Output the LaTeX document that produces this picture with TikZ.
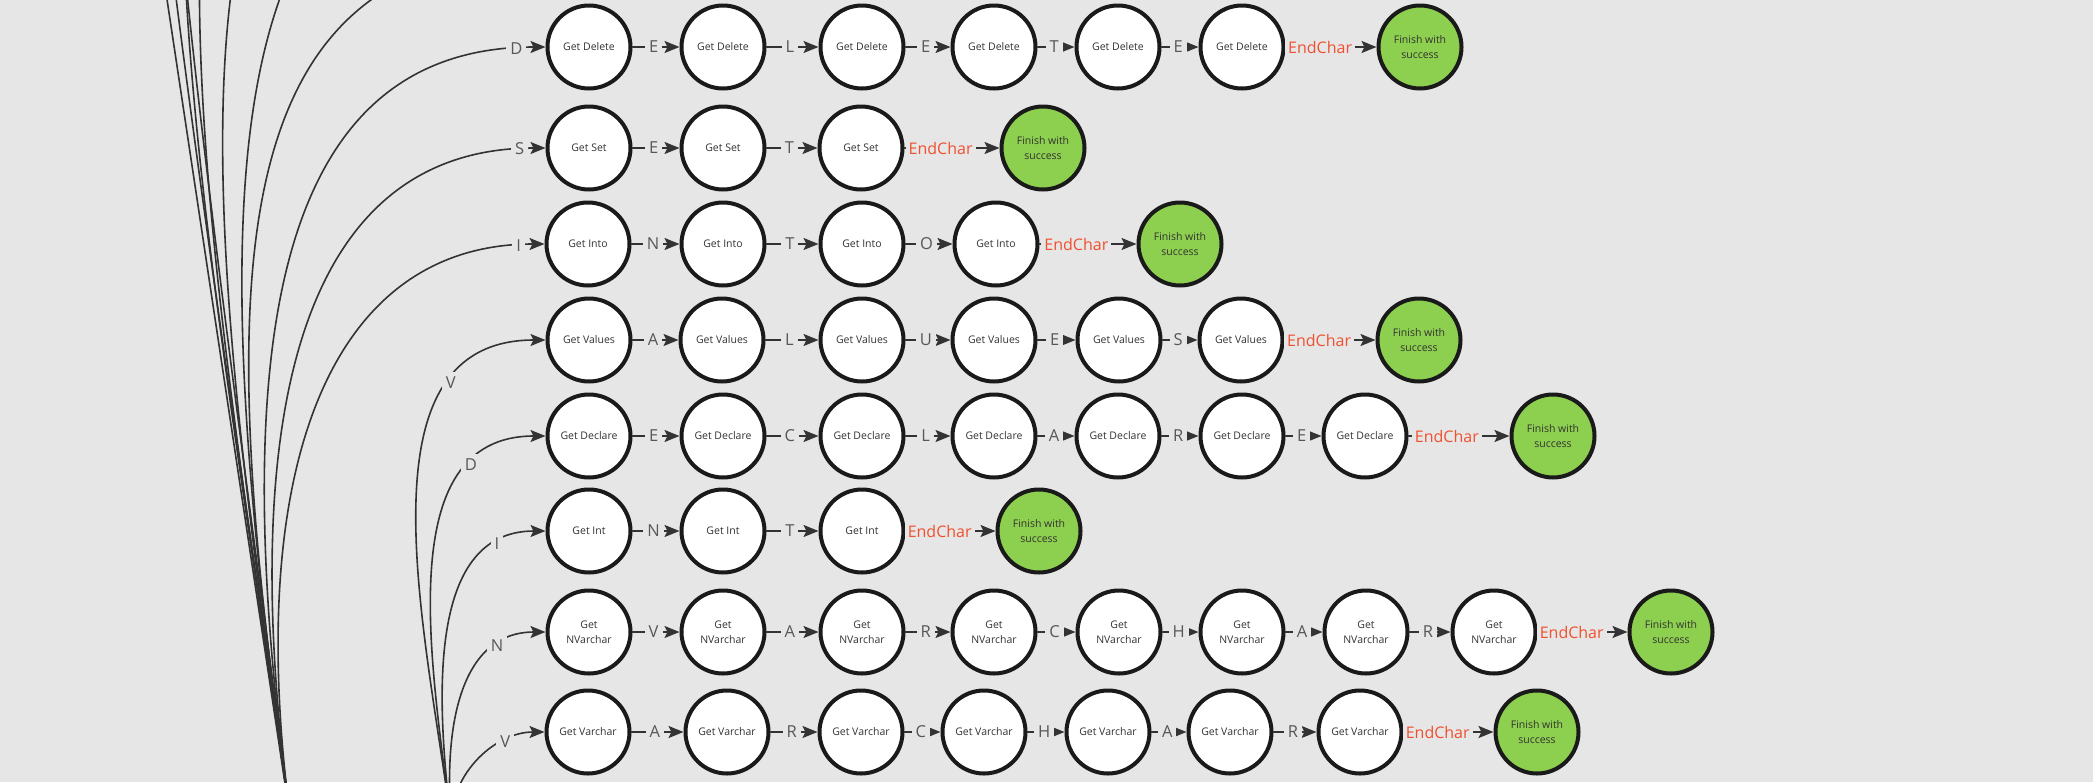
\documentclass[tikz,border=0pt]{standalone}
\usepackage{fontspec}
\setmainfont{Open Sans}
\usetikzlibrary{arrows.meta}
\definecolor{bggray}{HTML}{E6E6E6}
\definecolor{ringblack}{HTML}{1A1A1A}
\definecolor{wiregray}{HTML}{333333}
\definecolor{chargray}{HTML}{575757}
\definecolor{endred}{HTML}{F0502F}
\definecolor{okgreen}{HTML}{8DCF4E}
\tikzset{
  getnode/.style={circle,draw=ringblack,line width=4pt,fill=white,minimum size=83pt,inner sep=0pt,align=center,text=wiregray,font=\fontsize{10.5}{14.5}\selectfont},
  oknode/.style={getnode,fill=okgreen},
  charlbl/.style={fill=bggray,text=chargray,inner sep=4pt,font=\fontsize{16.5}{18}\selectfont},
  endlbl/.style={charlbl,text=endred,inner sep=3pt,font=\fontsize{16}{18}\selectfont},
  wire/.style={draw=wiregray,line width=2pt},
  thinwire/.style={wire,line width=1.6pt}
}
\begin{document}
\begin{tikzpicture}[line cap=round,line join=round,>={Stealth[length=15pt,width=12pt,inset=3pt]},x=1pt,y=-1pt]
\useasboundingbox (0,0) rectangle (2093,782);
\clip (0,0) rectangle (2093,782);
\fill[bggray] (0,0) rectangle (2093,782);

\coordinate (srcA) at (292,830);
\coordinate (srcB) at (452,830);
\coordinate (up1) at (140,-180);
\coordinate (up2) at (164,-100);
\coordinate (up3) at (178,-100);
\coordinate (up4) at (547,-620);
\coordinate (up5) at (547,-500);
\coordinate (up6) at (547,-330);
\coordinate (up7) at (547,-190);
\coordinate (up8) at (547,-49);

\node[getnode] (del1) at (589,47) {Get Delete};
\node[getnode] (del2) at (723,47) {Get Delete};
\node[getnode] (del3) at (862,47) {Get Delete};
\node[getnode] (del4) at (994,47) {Get Delete};
\node[getnode] (del5) at (1118,47) {Get Delete};
\node[getnode] (del6) at (1242,47) {Get Delete};
\node[oknode] (delok) at (1420,47) {Finish with\\success};

\node[getnode] (set1) at (589,148) {Get Set};
\node[getnode] (set2) at (723,148) {Get Set};
\node[getnode] (set3) at (861,148) {Get Set};
\node[oknode] (setok) at (1043,148) {Finish with\\success};

\node[getnode] (into1) at (588,244) {Get Into};
\node[getnode] (into2) at (723,244) {Get Into};
\node[getnode] (into3) at (862,244) {Get Into};
\node[getnode] (into4) at (996,244) {Get Into};
\node[oknode] (intook) at (1180,244) {Finish with\\success};

\node[getnode] (val1) at (589,340) {Get Values};
\node[getnode] (val2) at (722,340) {Get Values};
\node[getnode] (val3) at (862,340) {Get Values};
\node[getnode] (val4) at (994,340) {Get Values};
\node[getnode] (val5) at (1119,340) {Get Values};
\node[getnode] (val6) at (1241,340) {Get Values};
\node[oknode] (valok) at (1419,340) {Finish with\\success};

\node[getnode] (dec1) at (589,436) {Get Declare};
\node[getnode] (dec2) at (723,436) {Get Declare};
\node[getnode] (dec3) at (862,436) {Get Declare};
\node[getnode] (dec4) at (994,436) {Get Declare};
\node[getnode] (dec5) at (1118,436) {Get Declare};
\node[getnode] (dec6) at (1242,436) {Get Declare};
\node[getnode] (dec7) at (1365,436) {Get Declare};
\node[oknode] (decok) at (1553,436) {Finish with\\success};

\node[getnode] (int1) at (589,531) {Get Int};
\node[getnode] (int2) at (723,531) {Get Int};
\node[getnode] (int3) at (862,531) {Get Int};
\node[oknode] (intok) at (1039,531) {Finish with\\success};

\node[getnode] (nvc1) at (589,632) {Get\\NVarchar};
\node[getnode] (nvc2) at (723,632) {Get\\NVarchar};
\node[getnode] (nvc3) at (862,632) {Get\\NVarchar};
\node[getnode] (nvc4) at (994,632) {Get\\NVarchar};
\node[getnode] (nvc5) at (1119,632) {Get\\NVarchar};
\node[getnode] (nvc6) at (1242,632) {Get\\NVarchar};
\node[getnode] (nvc7) at (1366,632) {Get\\NVarchar};
\node[getnode] (nvc8) at (1494,632) {Get\\NVarchar};
\node[oknode] (nvcok) at (1671,632) {Finish with\\success};

\node[getnode] (vc1) at (588,732) {Get Varchar};
\node[getnode] (vc2) at (727,732) {Get Varchar};
\node[getnode] (vc3) at (861,732) {Get Varchar};
\node[getnode] (vc4) at (984,732) {Get Varchar};
\node[getnode] (vc5) at (1108,732) {Get Varchar};
\node[getnode] (vc6) at (1230,732) {Get Varchar};
\node[getnode] (vc7) at (1360,732) {Get Varchar};
\node[oknode] (vcok) at (1537,732) {Finish with\\success};

\draw[thinwire] (srcA) -- (up1);
\draw[thinwire] (srcA) .. controls (250,530) and (196,170) .. (up2);
\draw[thinwire] (srcA) .. controls (252,520) and (200,150) .. (up3);
\draw[thinwire] (srcA) .. controls (180,28) and (32,-620) .. (up4);
\draw[thinwire] (srcA) .. controls (188,93) and (73,-500) .. (up5);
\draw[thinwire] (srcA) .. controls (201,183) and (131,-330) .. (up6);
\draw[thinwire] (srcA) .. controls (212,258) and (185,-190) .. (up7);
\draw[thinwire] (srcA) .. controls (222,332) and (195,-49) .. (up8);
\draw[thinwire,->] (srcA) .. controls (229,382) and (259,47) .. node[charlbl,pos=0.965] {D} (del1);
\draw[thinwire,->] (srcA) .. controls (236,434) and (292,148) .. node[charlbl,pos=0.965] {S} (set1);
\draw[thinwire,->] (srcA) .. controls (243,482) and (323,244) .. node[charlbl,pos=0.96] {I} (into1);

\draw[thinwire,->] (srcB) .. controls (428,637) and (352,340) .. node[charlbl,pos=0.77] {V} (val1);
\draw[thinwire,->] (srcB) .. controls (433,672) and (388,436) .. node[charlbl,pos=0.79] {D} (dec1);
\draw[thinwire,->] (srcB) .. controls (437,708) and (424,531) .. node[charlbl,pos=0.84] {I} (int1);
\draw[thinwire,->] (srcB) .. controls (442,725) and (461,632) .. node[charlbl,pos=0.77] {N} (nvc1);
\draw[thinwire,->] (srcB) .. controls (446,777) and (494,732) .. node[charlbl,pos=0.73] {V} (vc1);

\draw[wire,->] (del1) -- node[charlbl,pos=0.45] {E} (del2);
\draw[wire,->] (del2) -- node[charlbl,pos=0.45] {L} (del3);
\draw[wire,->] (del3) -- node[charlbl,pos=0.45] {E} (del4);
\draw[wire,->] (del4) -- node[charlbl,pos=0.45] {T} (del5);
\draw[wire,->] (del5) -- node[charlbl,pos=0.45] {E} (del6);
\draw[wire,->] (del6) -- node[endlbl,pos=0.38] {EndChar} (delok);

\draw[wire,->] (set1) -- node[charlbl,pos=0.45] {E} (set2);
\draw[wire,->] (set2) -- node[charlbl,pos=0.45] {T} (set3);
\draw[wire,->] (set3) -- node[endlbl,pos=0.38] {EndChar} (setok);

\draw[wire,->] (into1) -- node[charlbl,pos=0.45] {N} (into2);
\draw[wire,->] (into2) -- node[charlbl,pos=0.45] {T} (into3);
\draw[wire,->] (into3) -- node[charlbl,pos=0.45] {O} (into4);
\draw[wire,->] (into4) -- node[endlbl,pos=0.38] {EndChar} (intook);

\draw[wire,->] (val1) -- node[charlbl,pos=0.45] {A} (val2);
\draw[wire,->] (val2) -- node[charlbl,pos=0.45] {L} (val3);
\draw[wire,->] (val3) -- node[charlbl,pos=0.45] {U} (val4);
\draw[wire,->] (val4) -- node[charlbl,pos=0.45] {E} (val5);
\draw[wire,->] (val5) -- node[charlbl,pos=0.45] {S} (val6);
\draw[wire,->] (val6) -- node[endlbl,pos=0.38] {EndChar} (valok);

\draw[wire,->] (dec1) -- node[charlbl,pos=0.45] {E} (dec2);
\draw[wire,->] (dec2) -- node[charlbl,pos=0.45] {C} (dec3);
\draw[wire,->] (dec3) -- node[charlbl,pos=0.45] {L} (dec4);
\draw[wire,->] (dec4) -- node[charlbl,pos=0.45] {A} (dec5);
\draw[wire,->] (dec5) -- node[charlbl,pos=0.45] {R} (dec6);
\draw[wire,->] (dec6) -- node[charlbl,pos=0.45] {E} (dec7);
\draw[wire,->] (dec7) -- node[endlbl,pos=0.38] {EndChar} (decok);

\draw[wire,->] (int1) -- node[charlbl,pos=0.45] {N} (int2);
\draw[wire,->] (int2) -- node[charlbl,pos=0.45] {T} (int3);
\draw[wire,->] (int3) -- node[endlbl,pos=0.38] {EndChar} (intok);

\draw[wire,->] (nvc1) -- node[charlbl,pos=0.45] {V} (nvc2);
\draw[wire,->] (nvc2) -- node[charlbl,pos=0.45] {A} (nvc3);
\draw[wire,->] (nvc3) -- node[charlbl,pos=0.45] {R} (nvc4);
\draw[wire,->] (nvc4) -- node[charlbl,pos=0.45] {C} (nvc5);
\draw[wire,->] (nvc5) -- node[charlbl,pos=0.45] {H} (nvc6);
\draw[wire,->] (nvc6) -- node[charlbl,pos=0.45] {A} (nvc7);
\draw[wire,->] (nvc7) -- node[charlbl,pos=0.45] {R} (nvc8);
\draw[wire,->] (nvc8) -- node[endlbl,pos=0.38] {EndChar} (nvcok);

\draw[wire,->] (vc1) -- node[charlbl,pos=0.45] {A} (vc2);
\draw[wire,->] (vc2) -- node[charlbl,pos=0.45] {R} (vc3);
\draw[wire,->] (vc3) -- node[charlbl,pos=0.45] {C} (vc4);
\draw[wire,->] (vc4) -- node[charlbl,pos=0.45] {H} (vc5);
\draw[wire,->] (vc5) -- node[charlbl,pos=0.45] {A} (vc6);
\draw[wire,->] (vc6) -- node[charlbl,pos=0.45] {R} (vc7);
\draw[wire,->] (vc7) -- node[endlbl,pos=0.38] {EndChar} (vcok);
\end{tikzpicture}
\end{document}
